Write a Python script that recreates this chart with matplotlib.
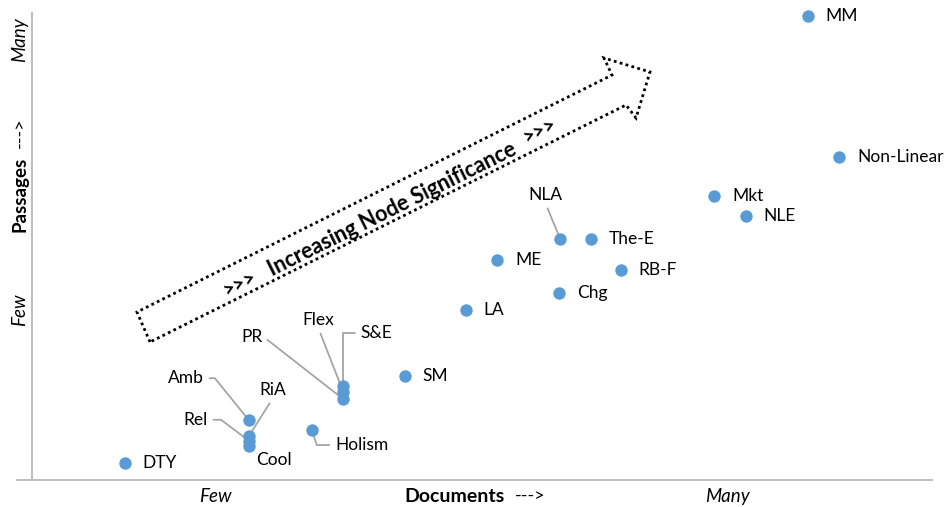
import matplotlib.pyplot as plt
from matplotlib.patches import Polygon

plt.rcParams['font.family'] = ['Lato', 'DejaVu Sans']

# node data (documents, passages), arbitrary 0-100 scale
nodes = ['DTY', 'Amb', 'RiA', 'Rel', 'Cool', 'Holism', 'S&E', 'Flex', 'PR', 'SM',
         'LA', 'ME', 'NLA', 'The-E', 'Chg', 'RB-F', 'Mkt', 'NLE', 'Non-Linear', 'MM']
documents = [10.3, 24.1, 24.1, 24.1, 24.1, 31.1, 34.6, 34.6, 34.6, 41.4,
             48.2, 51.7, 58.7, 62.1, 58.6, 65.4, 75.8, 79.3, 89.7, 86.2]
passages = [3.6, 12.8, 9.4, 8.4, 7.3, 10.7, 20.1, 18.8, 17.3, 22.3,
            36.4, 47.1, 51.6, 51.6, 40.0, 45.0, 60.8, 56.5, 69.2, 99.4]

x_ticks = [20.4, 77.3]
y_ticks = [36.4, 94.2]
tick_labels = ['Few', 'Many']

blue = '#5B9BD5'
grey = '#A5A5A5'
fs = 12.5

fig = plt.figure(figsize=(9.44, 5.07), dpi=100)
ax = fig.add_axes([17 / 944, 1 - 480 / 507, 915 / 944, 467 / 507])
ax.set_xlim(-15 / 9, 100)
ax.set_ylim(0, 100)

for s in ['top', 'right']:
    ax.spines[s].set_visible(False)
for s in ['left', 'bottom']:
    ax.spines[s].set_color('#BFBFBF')
    ax.spines[s].set_linewidth(1.5)
ax.spines['left'].set_position(('data', 0))

ax.set_xticks(x_ticks)
ax.set_xticklabels(tick_labels, fontstyle='italic', fontsize=13.5)
ax.set_yticks(y_ticks)
ax.set_yticklabels(tick_labels, fontstyle='italic', fontsize=13.5,
                   rotation=90, va='center')
ax.tick_params(length=0)
ax.tick_params(axis='x', pad=6)
ax.tick_params(axis='y', pad=3)

ax.scatter(documents, passages, s=80, color=blue, zorder=3, clip_on=False,
           linewidths=0)

# label placement: offset in pixels, alignment, leader style
simple = {'DTY', 'SM', 'LA', 'ME', 'The-E', 'Chg', 'RB-F', 'Mkt', 'NLE',
          'Non-Linear', 'MM'}
special = {
    'Amb': ((-45, 42), 'right', 'angle,angleA=0,angleB=129,rad=0', (1, 0.5)),
    'Rel': ((-41, 21), 'right', 'angle,angleA=0,angleB=143,rad=0', (1, 0.5)),
    'PR': ((-81, 62), 'right', 'angle,angleA=0,angleB=142,rad=0', (1, 0.5)),
    'S&E': ((17, 53), 'left', 'angle,angleA=0,angleB=90,rad=0', (0, 0.5)),
    'Holism': ((23, -15), 'left', 'angle,angleA=0,angleB=-72,rad=0', (0, 0.5)),
    'RiA': ((24, 46), 'center', 'arc3', (0.5, 0)),
    'Flex': ((-25, 72), 'center', 'arc3', (0.5, 0)),
    'NLA': ((-15, 44), 'center', 'arc3', (0.5, 0)),
    'Cool': ((7, -14), 'left', None, None),
}

for name, xv, yv in zip(nodes, documents, passages):
    if name in simple:
        ax.annotate(name, (xv, yv), xytext=(18, 0), textcoords='offset pixels',
                    ha='left', va='center', fontsize=fs)
        continue
    off, ha, conn, rel = special[name]
    props = None
    if conn is not None:
        props = dict(arrowstyle='-', color=grey, lw=1.3, connectionstyle=conn,
                     relpos=rel, shrinkA=2, shrinkB=0)
    ax.annotate(name, (xv, yv), xytext=off, textcoords='offset pixels',
                ha=ha, va='center', fontsize=fs, arrowprops=props, zorder=2)

# dotted "increasing significance" arrow, axes fraction coordinates
arrow_pts = [(0.1454, 0.2955), (0.1311, 0.3597), (0.6503, 0.8672),
             (0.6415, 0.9036), (0.6918, 0.8737), (0.6765, 0.7752),
             (0.6656, 0.8030)]
ax.add_patch(Polygon(arrow_pts, closed=True, fill=False, edgecolor='black',
                     lw=2, linestyle=(0, (1, 1.2)), transform=ax.transAxes))

ang = 26.5
ax.text((392 - 17) / 915, (480 - 209) / 467, 'Increasing Node Significance',
        transform=ax.transAxes, rotation=ang, rotation_mode='anchor',
        ha='center', va='center', fontsize=15.5, fontweight='bold')
for px, py in [(240, 283), (540, 130)]:
    ax.text((px - 17) / 915, (480 - py) / 467, '>>>', transform=ax.transAxes,
            rotation=ang, rotation_mode='anchor', ha='center', va='center',
            fontsize=14.5, fontweight='bold')

# axis titles
fig.text(454 / 944, 1 - 496 / 507, 'Documents', ha='center', va='center',
         fontsize=14, fontweight='bold')
fig.text(530 / 944, 1 - 496 / 507, '--->', ha='center', va='center',
         fontsize=13)
fig.text(20 / 944, 1 - 194 / 507, 'Passages', ha='center', va='center',
         fontsize=13.5, fontweight='bold', rotation=90)
fig.text(20 / 944, 1 - 133 / 507, '--->', ha='center', va='center',
         fontsize=13, rotation=90)

fig.savefig('out.png', dpi=100)
